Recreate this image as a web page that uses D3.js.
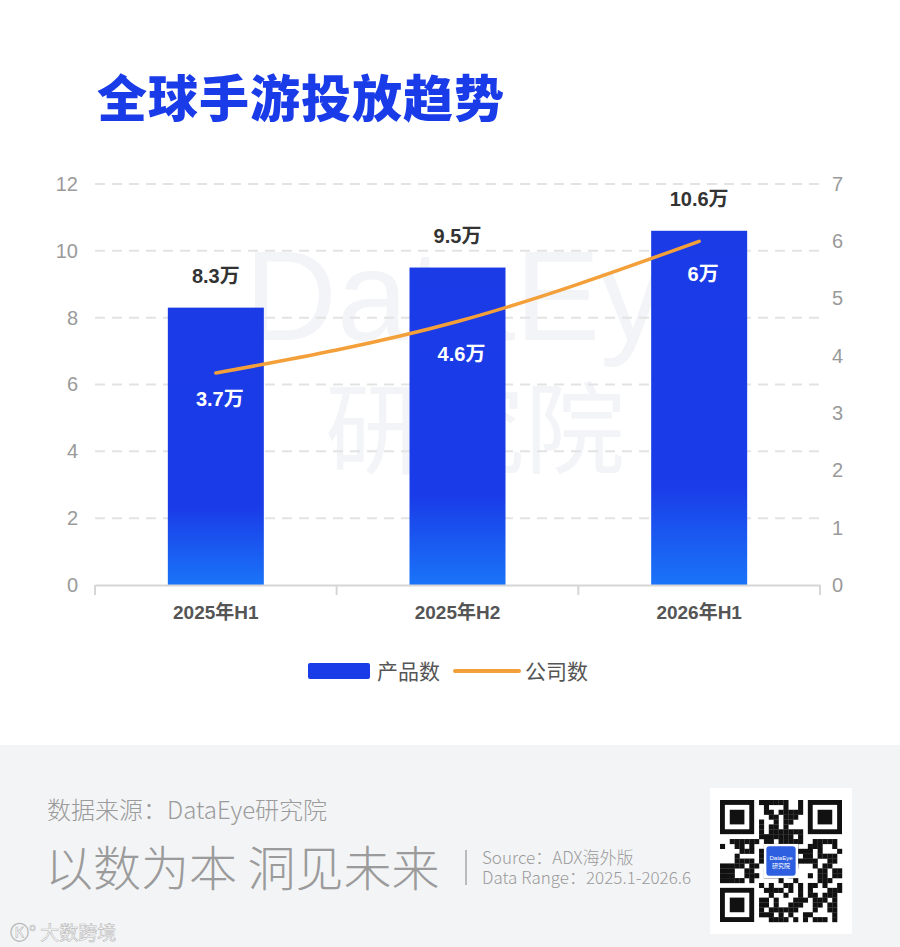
<!DOCTYPE html>
<html><head><meta charset="utf-8">
<script src="https://cdn.jsdelivr.net/npm/d3@7"></script>
<style>
html,body{margin:0;padding:0;background:#fff;}
svg{display:block;}
</style></head>
<body>
<svg id="c" width="900" height="947"></svg>
<script>
const categories = ["2025年H1","2025年H2","2026年H1"];
const productCounts = [8.3, 9.5, 10.6];
const companyCounts = [3.7, 4.6, 6];
const leftTicks = [0,2,4,6,8,10,12];
const rightTicks = [0,1,2,3,4,5,6,7];
const seriesNames = ["产品数","公司数"];

const svg = d3.select("#c");
const W = 900, H = 947;
const M = {left:95, right:820, top:184, bottom:585};
const FONT = "'Liberation Sans','Noto Sans CJK SC',Arial,sans-serif";
const CJK = "'Noto Sans CJK SC','Liberation Sans',sans-serif";

svg.append("rect").attr("width",W).attr("height",H).attr("fill","#fff");

const defs = svg.append("defs");
const grad = defs.append("linearGradient").attr("id","barGrad").attr("x1",0).attr("y1",0).attr("x2",0).attr("y2",1);
grad.append("stop").attr("offset","0%").attr("stop-color","#1a3be6");
grad.append("stop").attr("offset","72%").attr("stop-color","#1a3ce8");
grad.append("stop").attr("offset","100%").attr("stop-color","#1a74f8");

// Title
svg.append("text").attr("x",97).attr("y",117)
  .attr("font-family",CJK).attr("font-weight",900).attr("font-size",50)
  .attr("fill","#1a3be8").attr("letter-spacing",1).text("全球手游投放趋势");

// Watermark
svg.append("text").attr("x",490).attr("y",340).attr("text-anchor","middle")
  .attr("font-family","'Liberation Sans',sans-serif").attr("font-size",128).attr("font-weight",400)
  .attr("fill","#f3f4f7").text("DataEye");
svg.append("text").attr("x",475).attr("y",466).attr("text-anchor","middle")
  .attr("font-family",CJK).attr("font-size",100).attr("font-weight",400)
  .attr("fill","#f3f4f7").text("研究院");

const x = d3.scaleBand().domain(categories).range([M.left, M.right]).paddingInner(0).paddingOuter(0);
const yL = d3.scaleLinear().domain([0,12]).range([M.bottom, M.top]);
const yR = d3.scaleLinear().domain([0,7]).range([M.bottom, M.top]);

// Grid
svg.append("g").selectAll("line").data(leftTicks.filter(d=>d>0)).join("line")
  .attr("x1",M.left).attr("x2",M.right).attr("y1",d=>yL(d)).attr("y2",d=>yL(d))
  .attr("stroke","#e3e3e3").attr("stroke-width",2).attr("stroke-dasharray","10,7");

// Left axis
const gL = svg.append("g").attr("transform",`translate(${M.left},0)`)
  .call(d3.axisLeft(yL).tickValues(leftTicks).tickSize(0).tickPadding(17).tickFormat(d3.format("d")));
gL.select(".domain").remove();
gL.selectAll("text").attr("font-family",FONT).attr("font-size",20).attr("fill","#9a9a9a");

// Right axis
const gR = svg.append("g").attr("transform",`translate(${M.right},0)`)
  .call(d3.axisRight(yR).tickValues(rightTicks).tickSize(0).tickPadding(12).tickFormat(d3.format("d")));
gR.select(".domain").remove();
gR.selectAll("text").attr("font-family",FONT).attr("font-size",20).attr("fill","#9a9a9a");

// Bars
const bw = 96;
svg.append("g").selectAll("rect").data(productCounts).join("rect")
  .attr("x",(d,i)=>x(categories[i]) + x.bandwidth()/2 - bw/2)
  .attr("y",d=>yL(d)).attr("width",bw).attr("height",d=>yL(0)-yL(d))
  .attr("fill","url(#barGrad)");

// Bottom axis
const gB = svg.append("g").attr("transform",`translate(0,${M.bottom})`)
  .call(d3.axisBottom(x).tickSize(0).tickPadding(21));
gB.select(".domain").attr("stroke","#d6d6d6").attr("stroke-width",2);
gB.selectAll("text").attr("font-family",FONT).attr("font-weight",700).attr("font-size",19).attr("fill","#555");
const bounds = [M.left].concat(categories.map(c=>x(c)+x.bandwidth()));
svg.append("g").selectAll("line").data(bounds).join("line")
  .attr("x1",d=>d).attr("x2",d=>d).attr("y1",M.bottom).attr("y2",M.bottom+10)
  .attr("stroke","#d6d6d6").attr("stroke-width",2);

// Bar labels
svg.append("g").selectAll("text").data(productCounts).join("text")
  .attr("x",(d,i)=>x(categories[i]) + x.bandwidth()/2)
  .attr("y",d=>yL(d)-25).attr("text-anchor","middle")
  .attr("font-family",FONT).attr("font-weight",700).attr("font-size",20).attr("fill","#333")
  .text(d=>d+"万");

// Line
const line = d3.line().x((d,i)=>x(categories[i]) + x.bandwidth()/2).y(d=>yR(d)).curve(d3.curveMonotoneX);
svg.append("path").datum(companyCounts).attr("d",line)
  .attr("fill","none").attr("stroke","#f4a03a").attr("stroke-width",3.5).attr("stroke-linecap","round");

// Line labels
const lblDy = [33, 40, 40];
svg.append("g").selectAll("text").data(companyCounts).join("text")
  .attr("x",(d,i)=>x(categories[i]) + x.bandwidth()/2 + 4)
  .attr("y",(d,i)=>yR(d)+lblDy[i]).attr("text-anchor","middle")
  .attr("font-family",FONT).attr("font-weight",700).attr("font-size",20).attr("fill","#fff")
  .text(d=>d+"万");

// Legend
const lg = svg.append("g");
lg.append("rect").attr("x",308).attr("y",663).attr("width",62).attr("height",16).attr("rx",2).attr("fill","#1a3ce8");
lg.append("text").attr("x",377).attr("y",679).attr("font-family",CJK).attr("font-size",21).attr("fill","#555").text(seriesNames[0]);
lg.append("line").attr("x1",455).attr("x2",519).attr("y1",671).attr("y2",671).attr("stroke","#f4a03a").attr("stroke-width",4).attr("stroke-linecap","round");
lg.append("text").attr("x",525).attr("y",679).attr("font-family",CJK).attr("font-size",21).attr("fill","#555").text(seriesNames[1]);

// Footer
const ft = svg.append("g");
ft.append("rect").attr("x",0).attr("y",745).attr("width",W).attr("height",H-745).attr("fill","#f3f4f6");
ft.append("text").attr("x",47).attr("y",819).attr("font-family",CJK).attr("font-weight",300).attr("font-size",24).attr("fill","#9b9b9b").text("数据来源：DataEye研究院");
ft.append("text").attr("x",45).attr("y",886).attr("font-family",CJK).attr("font-weight",300).attr("font-size",48).attr("fill","#9b9b9b").text("以数为本 洞见未来");
ft.append("line").attr("x1",466).attr("x2",466).attr("y1",850).attr("y2",885).attr("stroke","#a8a8a8").attr("stroke-width",1.5);
ft.append("text").attr("x",482).attr("y",864).attr("font-family",CJK).attr("font-weight",300).attr("font-size",17).attr("fill","#9b9b9b").text("Source：ADX海外版");
ft.append("text").attr("x",482).attr("y",884).attr("font-family",CJK).attr("font-weight",300).attr("font-size",17).attr("fill","#9b9b9b").text("Data Range：2025.1-2026.6");

ft.append("text").attr("x",10).attr("y",940).attr("font-family",CJK).attr("font-size",19).attr("fill","#fff")
  .attr("stroke","#b8b8b8").attr("stroke-width",0.6).text("Ⓚ° 大数跨境");

// QR code decoration
const qx = 710, qy = 788;
ft.append("rect").attr("x",qx).attr("y",qy).attr("width",142).attr("height",146).attr("fill","#fff");
const N = 25, ms = 4.88, ox = qx+10, oy = qy+12;
const qr = ft.append("g");
function finder(cx, cy){
  qr.append("rect").attr("x",ox+cx*ms).attr("y",oy+cy*ms).attr("width",7*ms).attr("height",7*ms).attr("fill","#111");
  qr.append("rect").attr("x",ox+(cx+1)*ms).attr("y",oy+(cy+1)*ms).attr("width",5*ms).attr("height",5*ms).attr("fill","#fff");
  qr.append("rect").attr("x",ox+(cx+2)*ms).attr("y",oy+(cy+2)*ms).attr("width",3*ms).attr("height",3*ms).attr("fill","#111");
}
const cells = [];
const seedStr = "DataEye研究院ADX海外版";
for(let r=0;r<N;r++) for(let c=0;c<N;c++){
  const inF = (r<8&&c<8)||(r<8&&c>=N-8)||(r>=N-8&&c<8);
  if(inF) continue;
  const h = ((r*37 + c*23 + seedStr.charCodeAt((r*3+c)%seedStr.length)*11 + (r*c)%17) ^ (r*c*5+c)) % 7;
  if(h<4 || (r===6 && c%2===0) || (c===6 && r%2===0)) cells.push([r,c]);
}
qr.selectAll("rect.m").data(cells).join("rect").attr("class","m")
  .attr("x",d=>ox+d[1]*ms).attr("y",d=>oy+d[0]*ms).attr("width",ms+0.2).attr("height",ms+0.2).attr("fill","#111");
finder(0,0); finder(N-7,0); finder(0,N-7);
qr.append("rect").attr("x",ox+9*ms).attr("y",oy+9*ms).attr("width",7*ms).attr("height",7*ms).attr("fill","#fff");
qr.append("rect").attr("x",ox+9.5*ms).attr("y",oy+9.5*ms).attr("width",6*ms).attr("height",6*ms).attr("rx",3).attr("fill","#2e5fe0");
qr.append("text").attr("x",ox+12.5*ms).attr("y",oy+12.3*ms).attr("text-anchor","middle").attr("font-family",FONT).attr("font-size",6).attr("fill","#fff").text("DataEye");
qr.append("text").attr("x",ox+12.5*ms).attr("y",oy+14*ms).attr("text-anchor","middle").attr("font-family",CJK).attr("font-size",6).attr("fill","#fff").text("研究院");
</script>
</body></html>
